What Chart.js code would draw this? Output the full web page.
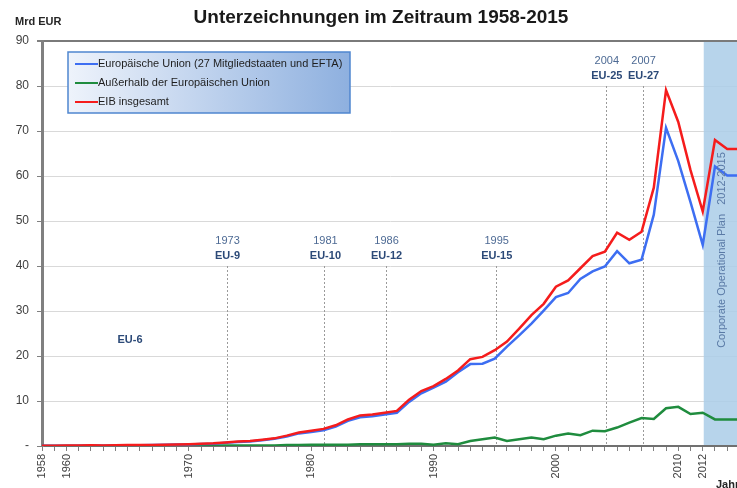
<!DOCTYPE html>
<html lang="de">
<head>
  <meta charset="UTF-8">
  <title>Unterzeichnungen im Zeitraum 1958-2015</title>
  <script src="https://cdn.jsdelivr.net/npm/chart.js"></script>
  <style>
    body { margin: 0; background: #ffffff; }
    .wrap { position: relative; width: 737px; height: 488px; }
  </style>
</head>
<body>
  <div class="wrap">
    <canvas id="chart" width="737" height="488"></canvas>
  </div>

  <script>
    // Jahre 1958-2015
    const years = [1958, 1959, 1960, 1961, 1962, 1963, 1964, 1965, 1966, 1967,
      1968, 1969, 1970, 1971, 1972, 1973, 1974, 1975, 1976, 1977,
      1978, 1979, 1980, 1981, 1982, 1983, 1984, 1985, 1986, 1987,
      1988, 1989, 1990, 1991, 1992, 1993, 1994, 1995, 1996, 1997,
      1998, 1999, 2000, 2001, 2002, 2003, 2004, 2005, 2006, 2007,
      2008, 2009, 2010, 2011, 2012, 2013, 2014, 2015];

    // Mrd EUR
    const euValues = [0.03, 0.03, 0.08, 0.08, 0.12, 0.08, 0.12, 0.18, 0.18, 0.22,
      0.27, 0.32, 0.35, 0.45, 0.5, 0.7, 0.9, 1.0, 1.3, 1.6,
      2.1, 2.8, 3.1, 3.5, 4.3, 5.6, 6.4, 6.6, 7.0, 7.4,
      9.8, 11.7, 13.0, 14.3, 16.4, 18.2, 18.3, 19.4, 22.1, 24.6,
      27.2, 30.1, 33.1, 34.0, 37.1, 38.8, 39.9, 43.3, 40.6, 41.4,
      51.4, 70.7, 63.3, 54.2, 44.7, 62.1, 60.1, 60.1];
    const outsideValues = [0.02, 0.02, 0.02, 0.02, 0.02, 0.02, 0.02, 0.02, 0.02, 0.02,
      0.02, 0.02, 0.05, 0.05, 0.1, 0.1, 0.1, 0.1, 0.1, 0.1,
      0.2, 0.2, 0.3, 0.3, 0.3, 0.3, 0.4, 0.4, 0.4, 0.4,
      0.5, 0.5, 0.3, 0.6, 0.4, 1.1, 1.5, 1.9, 1.1, 1.5,
      1.9, 1.5, 2.3, 2.8, 2.4, 3.4, 3.3, 4.1, 5.2, 6.2,
      6.0, 8.4, 8.7, 7.1, 7.4, 5.9, 5.9, 5.9];
    const totalValues = [0.05, 0.05, 0.1, 0.1, 0.15, 0.1, 0.15, 0.2, 0.2, 0.25,
      0.3, 0.35, 0.4, 0.5, 0.6, 0.8, 1.0, 1.1, 1.4, 1.7,
      2.3, 3.0, 3.4, 3.8, 4.6, 5.9, 6.8, 7.0, 7.4, 7.8,
      10.3, 12.2, 13.3, 14.9, 16.8, 19.3, 19.8, 21.3, 23.2, 26.1,
      29.1, 31.6, 35.4, 36.8, 39.5, 42.2, 43.2, 47.4, 45.8, 47.6,
      57.4, 79.1, 72.0, 61.3, 52.1, 68.0, 66.0, 66.0];

    const seriesLabels = ['Europäische Union (27 Mitgliedstaaten und EFTA)',
      'Außerhalb der Europäischen Union', 'EIB insgesamt'];
    const seriesColors = ['#3d6ef2', '#1f8c3e', '#f51c1c'];

    const xLabelYears = [1958, 1960, 1970, 1980, 1990, 2000, 2010, 2012];
    const yTicks = [0, 10, 20, 30, 40, 50, 60, 70, 80, 90];

    // Erweiterungen
    const enlargeYears = [1973, 1981, 1986, 1995, 2004, 2007];
    const enlargeNames = ['EU-9', 'EU-10', 'EU-12', 'EU-15', 'EU-25', 'EU-27'];
    const enlargeTops = [40, 40, 40, 40, 80, 80];

    const planStart = 2012;
    const planText = 'Corporate Operational Plan   2012-2015';

    const toPoints = vals => years.map((y, i) => ({ x: y, y: vals[i] }));

    const decorations = {
      id: 'decorations',
      beforeDatasetsDraw(chart) {
        const { ctx, chartArea } = chart;
        const x = chart.scales.x, y = chart.scales.y;
        ctx.save();
        // Planungszeitraum
        const bx = x.getPixelForValue(planStart) + 1;
        ctx.fillStyle = 'rgba(170, 205, 232, 0.85)';
        ctx.fillRect(bx, chartArea.top + 1, chartArea.right - bx, chartArea.bottom - chartArea.top - 2);
        // gestrichelte Linien
        ctx.strokeStyle = '#9a9a9a';
        ctx.lineWidth = 1;
        ctx.setLineDash([2, 2]);
        enlargeYears.forEach((yr, i) => {
          const px = Math.round(x.getPixelForValue(yr)) + 1.5;
          ctx.beginPath();
          ctx.moveTo(px, y.getPixelForValue(enlargeTops[i]));
          ctx.lineTo(px, chartArea.bottom);
          ctx.stroke();
        });
        ctx.restore();
      },
      afterDraw(chart) {
        const { ctx, chartArea } = chart;
        const x = chart.scales.x, y = chart.scales.y;
        ctx.save();
        // Titel
        ctx.fillStyle = '#1a1a1a';
        ctx.font = 'bold 19px "Liberation Sans", Arial, sans-serif';
        ctx.textAlign = 'center';
        ctx.textBaseline = 'middle';
        ctx.fillText('Unterzeichnungen im Zeitraum 1958-2015', 381, 18, 395);
        ctx.font = 'bold 11px "Liberation Sans", Arial, sans-serif';
        ctx.textAlign = 'left';
        ctx.fillStyle = '#262626';
        ctx.fillText('Mrd EUR', 15, 22);
        ctx.textBaseline = 'top';
        ctx.fillText('Jahr', 716, 479);

        // Erweiterungen beschriften
        ctx.textAlign = 'center';
        ctx.textBaseline = 'middle';
        enlargeYears.forEach((yr, i) => {
          const px = x.getPixelForValue(yr) + 2;
          const top = y.getPixelForValue(enlargeTops[i]);
          ctx.fillStyle = '#4d6a94';
          ctx.font = '11px "Liberation Sans", Arial, sans-serif';
          ctx.fillText(String(yr), px, top - 25);
          ctx.fillStyle = '#2c4a78';
          ctx.font = 'bold 11px "Liberation Sans", Arial, sans-serif';
          ctx.fillText(enlargeNames[i], px, top - 10);
        });
        ctx.fillText('EU-6', 130, 340);

        // Planungstext
        ctx.save();
        ctx.translate(722, 250);
        ctx.rotate(-Math.PI / 2);
        ctx.fillStyle = '#5a7aa6';
        ctx.font = '11px "Liberation Sans", Arial, sans-serif';
        ctx.fillText(planText, 0, 0, 218);
        ctx.restore();

        // Legende
        const lx = 68, ly = 52, lw = 282, lh = 61;
        const grad = ctx.createLinearGradient(lx, 0, lx + lw, 0);
        grad.addColorStop(0, '#eef3fb');
        grad.addColorStop(1, '#8eb0df');
        ctx.fillStyle = grad;
        ctx.fillRect(lx, ly, lw, lh);
        ctx.strokeStyle = '#4f86cf';
        ctx.lineWidth = 1.5;
        ctx.strokeRect(lx, ly, lw, lh);
        ctx.textAlign = 'left';
        ctx.font = '11px "Liberation Sans", Arial, sans-serif';
        chart.data.datasets.forEach((ds, i) => {
          const ry = ly + 12 + i * 19;
          ctx.strokeStyle = ds.borderColor;
          ctx.lineWidth = 2;
          ctx.beginPath();
          ctx.moveTo(lx + 7, ry);
          ctx.lineTo(lx + 30, ry);
          ctx.stroke();
          ctx.fillStyle = '#1e1e1e';
          ctx.fillText(ds.label, lx + 30, ry, 246);
        });
        ctx.restore();
      }
    };

    const ctx = document.getElementById('chart').getContext('2d');
    const chart = new Chart(ctx, {
      type: 'line',
      data: {
        datasets: [
          { label: seriesLabels[0], data: toPoints(euValues), borderColor: seriesColors[0], order: 1 },
          { label: seriesLabels[1], data: toPoints(outsideValues), borderColor: seriesColors[1], order: 2 },
          { label: seriesLabels[2], data: toPoints(totalValues), borderColor: seriesColors[2], order: 0 }
        ]
      },
      options: {
        responsive: false,
        animation: false,
        layout: { padding: { top: 41, right: 0, left: 0, bottom: 0 } },
        elements: {
          line: { borderWidth: 2.5, tension: 0 },
          point: { radius: 0 }
        },
        plugins: {
          legend: { display: false },
          tooltip: { enabled: false },
          title: { display: false }
        },
        scales: {
          x: {
            type: 'linear',
            min: 1958,
            max: 2014.8,
            afterBuildTicks: scale => { scale.ticks = years.filter(v => v <= 2014).map(v => ({ value: v })); },
            afterFit: scale => { scale.height = 42; scale.paddingRight = 0; scale.paddingLeft = 0; },
            border: { color: '#707070', width: 2 },
            grid: { drawOnChartArea: false, drawTicks: true, tickLength: 5, tickColor: '#808080' },
            ticks: {
              autoSkip: false,
              minRotation: 90,
              maxRotation: 90,
              padding: 3,
              color: '#404040',
              font: { family: '"Liberation Sans", Arial, sans-serif', size: 11 },
              callback: v => xLabelYears.includes(v) ? String(v) : ''
            }
          },
          y: {
            min: 0,
            max: 90,
            afterBuildTicks: scale => { scale.ticks = yTicks.map(v => ({ value: v })); },
            afterFit: scale => { scale.width = 42; },
            border: { color: '#808080', width: 3 },
            grid: {
              color: c => c.tick && c.tick.value === 90 ? '#7a7a7a' : '#d9d9d9',
              lineWidth: c => c.tick && c.tick.value === 90 ? 2 : 1,
              tickLength: 5,
              tickColor: '#808080'
            },
            ticks: {
              padding: 8,
              color: '#404040',
              font: { family: '"Liberation Sans", Arial, sans-serif', size: 12 },
              callback: v => v === 0 ? '-' : String(v)
            }
          }
        }
      },
      plugins: [decorations]
    });
  </script>
</body>
</html>
